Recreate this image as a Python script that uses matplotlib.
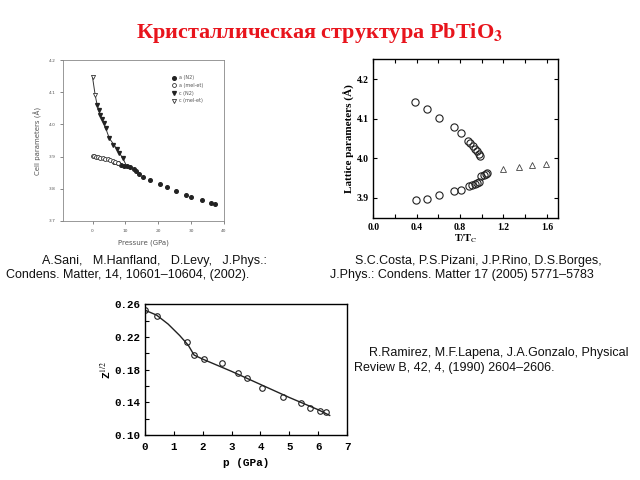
import matplotlib
matplotlib.use("Agg")
import matplotlib.pyplot as plt
from matplotlib.ticker import MultipleLocator, FormatStrFormatter

plt.rcParams['mathtext.fontset'] = 'stix'

# ---------- data: plot 1 (Sani et al.) ----------
a_n2_p = [6.5, 7.7, 8.7, 9.6, 10.4, 11.3, 12.5, 13.2, 14.0, 15.5, 17.5, 20.4, 22.6, 25.5, 28.5, 30.0, 33.2, 35.9, 37.2]
a_n2 = [3.884, 3.879, 3.875, 3.872, 3.870, 3.867, 3.860, 3.855, 3.846, 3.838, 3.828, 3.815, 3.807, 3.792, 3.782, 3.776, 3.765, 3.756, 3.752]
a_melet_p = [0.0, 0.5, 1.1, 1.7, 2.4, 3.1, 3.9, 4.6, 5.4, 6.1, 6.9, 7.6]
a_melet = [3.902, 3.901, 3.900, 3.899, 3.897, 3.896, 3.894, 3.892, 3.889, 3.886, 3.882, 3.879]
c_n2_p = [1.4, 2.0, 2.4, 2.9, 3.4, 4.1, 5.1, 6.3, 7.3, 8.1, 9.2]
c_n2 = [4.060, 4.045, 4.028, 4.017, 4.005, 3.988, 3.957, 3.936, 3.925, 3.910, 3.895]
c_melet_p = [0.0, 0.8]
c_melet = [4.146, 4.091]
c_fit_p = [0.0, 0.8, 1.4, 2.4, 3.4, 5.1, 7.3, 9.2, 10.3]
c_fit = [4.146, 4.091, 4.060, 4.028, 4.005, 3.957, 3.925, 3.895, 3.872]
a_fit_p = [0.0, 3.1, 6.1, 9.6, 11.3]
a_fit = [3.902, 3.896, 3.886, 3.872, 3.867]

# ---------- data: plot 2 (Costa et al.) ----------
c_t = [0.385, 0.493, 0.607, 0.748, 0.807, 0.877, 0.89, 0.917, 0.94, 0.955, 0.97, 0.98]
c_lat = [4.141, 4.125, 4.102, 4.079, 4.065, 4.044, 4.039, 4.031, 4.024, 4.018, 4.011, 4.007]
a_t = [0.394, 0.497, 0.608, 0.743, 0.805, 0.882, 0.906, 0.937, 0.96, 0.975, 0.991, 1.018, 1.04, 1.05]
a_lat = [3.894, 3.898, 3.907, 3.917, 3.921, 3.931, 3.932, 3.935, 3.938, 3.941, 3.956, 3.957, 3.960, 3.963]
cub_t = [1.2, 1.339, 1.462, 1.592]
cub_lat = [3.974, 3.977, 3.982, 3.986]

# ---------- data: plot 3 (Ramirez et al.) ----------
z_p = [0.0, 0.41, 1.47, 1.70, 2.05, 2.66, 3.22, 3.53, 4.05, 4.77, 5.41, 5.73, 6.08, 6.28]
z_val = [0.253, 0.246, 0.2134, 0.1975, 0.1934, 0.188, 0.1758, 0.1696, 0.158, 0.147, 0.139, 0.1328, 0.1295, 0.128]
zfit_p = [0.0, 0.4, 0.8, 1.2, 1.5, 1.7, 2.0, 3.0, 4.0, 5.0, 6.0, 6.4]
zfit = [0.253, 0.247, 0.236, 0.222, 0.210, 0.198, 0.193, 0.178, 0.162, 0.146, 0.131, 0.124]
z_ticks = [0.10, 0.14, 0.18, 0.22, 0.26]

fig = plt.figure(figsize=(6.4, 4.8), dpi=100)

# title
fig.text(0.5, 0.931, "Кристаллическая структура PbTiO$_\\mathbf{3}$", color='#e8141c',
         fontsize=16, fontweight='bold', family='Liberation Serif', ha='center', va='center')

# ---------- plot 1 ----------
g = '#555555'
ax1 = fig.add_axes([0.0984, 0.5396, 0.2516, 0.3354])
ax1.plot(c_fit_p, c_fit, '-', color='#333333', lw=0.7)
ax1.plot(a_fit_p, a_fit, '-', color='#333333', lw=0.7)
ax1.plot(a_n2_p, a_n2, 'o', color='#222222', ms=2.6, ls='none', label='a (N2)')
ax1.plot(a_melet_p, a_melet, 'o', mfc='white', mec='#333333', mew=0.6, ms=2.8, ls='none', label='a (mel-et)')
ax1.plot(c_n2_p, c_n2, 'v', color='#222222', ms=2.8, ls='none', label='c (N2)')
ax1.plot(c_melet_p, c_melet, 'v', mfc='white', mec='#333333', mew=0.6, ms=3.0, ls='none', label='c (mel-et)')
ax1.set_xlim(-9, 40)
ax1.set_ylim(3.7, 4.2)
ax1.set_xticks([0, 10, 20, 30, 40])
ax1.set_yticks([3.7, 3.8, 3.9, 4.0, 4.1, 4.2])
ax1.yaxis.set_major_formatter(FormatStrFormatter('%.1f'))
ax1.tick_params(labelsize=3.2, colors=g, length=2, width=0.5)
for s in ax1.spines.values():
    s.set_color('#888888'); s.set_linewidth(0.6)
ax1.set_xlabel('Pressure (GPa)', fontsize=5, color=g, labelpad=5)
ax1.set_ylabel('Cell parameters (Å)', fontsize=5, color=g, labelpad=5)
leg = ax1.legend(loc='upper left', bbox_to_anchor=(0.66, 0.92), frameon=False, fontsize=3.5,
                 handlelength=1.0, handletextpad=0.6, labelspacing=0.55, borderpad=0)
for t in leg.get_texts():
    t.set_color(g)

# ---------- plot 2 ----------
ax2 = fig.add_axes([0.5833, 0.5465, 0.2881, 0.33])
ax2.plot(c_t, c_lat, 'o', mfc='none', mec='#222222', mew=0.8, ms=5.2, ls='none')
ax2.plot(a_t, a_lat, 'o', mfc='none', mec='#222222', mew=0.8, ms=5.2, ls='none')
ax2.plot(cub_t, cub_lat, '^', mfc='none', mec='#444444', mew=0.6, ms=4.8, ls='none')
ax2.set_xlim(0, 1.7)
ax2.set_ylim(3.85, 4.25)
ax2.xaxis.set_major_locator(MultipleLocator(0.4))
ax2.xaxis.set_minor_locator(MultipleLocator(0.2))
ax2.set_yticks([3.9, 4.0, 4.1, 4.2])
ax2.xaxis.set_major_formatter(FormatStrFormatter('%.1f'))
ax2.yaxis.set_major_formatter(FormatStrFormatter('%.1f'))
ax2.tick_params(which='both', direction='in', top=True, right=True, length=3, width=0.8)
for lab in ax2.get_xticklabels() + ax2.get_yticklabels():
    lab.set_family('Liberation Serif'); lab.set_fontweight('bold'); lab.set_fontsize(7)
for s in ax2.spines.values():
    s.set_linewidth(1.0)
ax2.set_xlabel('T/T$_\\mathrm{C}$', fontsize=7.5, family='Liberation Serif', fontweight='bold', labelpad=1)
ax2.set_ylabel('Lattice parameters (Å)', fontsize=8, family='Liberation Serif', fontweight='bold', labelpad=1)

# ---------- plot 3 ----------
ax3 = fig.add_axes([0.2266, 0.09375, 0.3156, 0.2719])
ax3.plot(zfit_p, zfit, '-', color='#222222', lw=1.0)
ax3.plot(z_p, z_val, 'o', mfc='none', mec='#222222', mew=0.8, ms=4.0, ls='none')
ax3.set_xlim(0, 7)
ax3.set_ylim(0.10, 0.26)
ax3.xaxis.set_major_locator(MultipleLocator(1))
ax3.set_yticks(z_ticks)
ax3.yaxis.set_minor_locator(MultipleLocator(0.02))
ax3.yaxis.set_major_formatter(FormatStrFormatter('%.2f'))
ax3.tick_params(which='both', direction='in', length=3, width=0.8)
ax3.tick_params(axis='x', pad=5)
for lab in ax3.get_xticklabels() + ax3.get_yticklabels():
    lab.set_family('Liberation Mono'); lab.set_fontweight('bold'); lab.set_fontsize(7.8)
for s in ax3.spines.values():
    s.set_linewidth(1.0)
ax3.set_xlabel('p (GPa)', fontsize=8, family='Liberation Mono', fontweight='bold', labelpad=4)
ax3.set_ylabel('Z$^{1/2}$', fontsize=8, family='Liberation Mono', fontweight='bold', labelpad=1)

# ---------- citations ----------
cf = dict(fontsize=9, family='Liberation Sans', color='#111111', va='center')
fig.text(42/640, 1-261/480, "A.Sani,   M.Hanfland,   D.Levy,   J.Phys.:", **cf)
fig.text(6/640, 1-275/480, "Condens. Matter, 14, 10601–10604, (2002).", **cf)
fig.text(355/640, 1-261/480, "S.C.Costa, P.S.Pizani, J.P.Rino, D.S.Borges,", **cf)
fig.text(330/640, 1-275/480, "J.Phys.: Condens. Matter 17 (2005) 5771–5783", **cf)
fig.text(369/640, 1-353/480, "R.Ramirez, M.F.Lapena, J.A.Gonzalo, Physical", **cf)
fig.text(354/640, 1-368/480, "Review B, 42, 4, (1990) 2604–2606.", **cf)

fig.savefig('out.png', dpi=100)
